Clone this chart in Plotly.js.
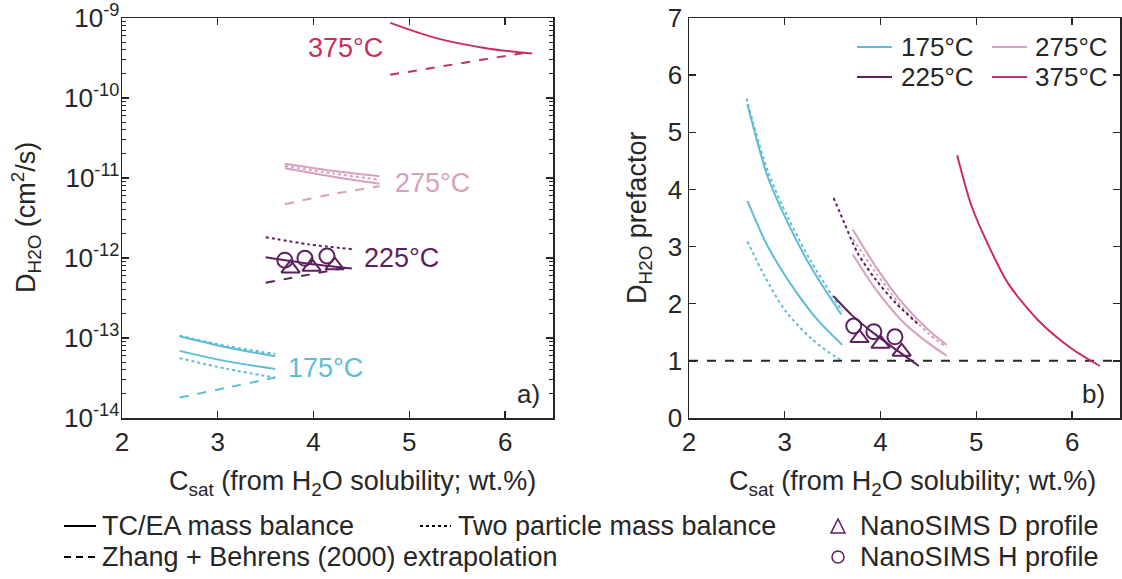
<!DOCTYPE html>
<html>
<head>
<meta charset="utf-8">
<script src="https://cdn.plot.ly/plotly-3.0.1.min.js"></script>
<style>html,body{margin:0;padding:0;background:#fff;}#chart{width:1122px;height:579px;}</style>
</head>
<body>
<div id="chart"></div>
<script>
// ---------- Panel a) : D_H2O (cm^2/s) vs Csat ----------
// 175 °C
const a175_x = [2.6, 3.1, 3.6];
const a175_tc_hi = [1.05e-13, 7.6e-14, 5.9e-14];
const a175_tp_hi = [1.07e-13, 7.9e-14, 6.3e-14];
const a175_tc_lo = [6.9e-14, 5.1e-14, 4.1e-14];
const a175_tp_lo = [5.6e-14, 4.1e-14, 3.2e-14];
const a175_zb    = [1.8e-14, 2.4e-14, 3.2e-14];
// 225 °C
const a225_x = [3.5, 3.95, 4.4];
const a225_tc = [1.02e-12, 8.5e-13, 7.4e-13];
const a225_tp = [1.82e-12, 1.48e-12, 1.29e-12];
const a225_zb = [4.9e-13, 6.2e-13, 7.8e-13];
const a225_D_x = [3.76, 3.98, 4.22];
const a225_D_y = [7.4e-13, 7.8e-13, 8.1e-13];
const a225_H_x = [3.70, 3.91, 4.14];
const a225_H_y = [9.4e-13, 9.9e-13, 1.06e-12];
// 275 °C
const a275_x = [3.7, 4.2, 4.69];
const a275_tc_hi = [1.51e-11, 1.23e-11, 1.05e-11];
const a275_tc_lo = [1.32e-11, 1.04e-11, 8.5e-12];
const a275_tp    = [1.41e-11, 1.14e-11, 9.5e-12];
const a275_zb    = [4.7e-12, 6.3e-12, 7.9e-12];
// 375 °C
const a375_x  = [4.80, 5.28, 5.80, 6.28];
const a375_tc = [8.7e-10, 5.6e-10, 4.2e-10, 3.6e-10];
const a375_zb_x = [4.80, 6.28];
const a375_zb = [1.95e-10, 3.8e-10];

// ---------- Panel b) : D_H2O prefactor vs Csat ----------
const b175_tc_hi_x = [2.61, 2.82, 3.03, 3.27, 3.59];
const b175_tc_hi   = [5.49, 4.23, 3.42, 2.65, 1.81];
const b175_tp_hi_x = [2.60, 2.82, 3.03, 3.27, 3.60];
const b175_tp_hi   = [5.59, 4.33, 3.52, 2.75, 1.87];
const b175_tc_lo_x = [2.61, 2.82, 3.10, 3.34, 3.60];
const b175_tc_lo   = [3.80, 3.01, 2.25, 1.72, 1.28];
const b175_tp_lo_x = [2.61, 2.79, 3.00, 3.27, 3.53, 3.60];
const b175_tp_lo   = [3.09, 2.48, 1.89, 1.40, 1.07, 1.01];
const b225_tp_x = [3.51, 3.62, 3.76, 3.95, 4.16, 4.40];
const b225_tp   = [3.85, 3.42, 2.89, 2.42, 2.01, 1.63];
const b225_tc_x = [3.51, 3.70, 3.90, 4.10, 4.40];
const b225_tc   = [2.13, 1.80, 1.52, 1.27, 0.91];
const b225_D_x = [3.78, 4.00, 4.22];
const b225_D_y = [1.40, 1.30, 1.16];
const b225_H_x = [3.72, 3.93, 4.15];
const b225_H_y = [1.61, 1.51, 1.42];
const b275_x = [3.71, 3.95, 4.23, 4.50, 4.69];
const b275_tc_hi = [3.30, 2.65, 2.01, 1.54, 1.28];
const b275_tc_lo = [2.86, 2.25, 1.69, 1.31, 1.09];
const b275_tp    = [3.13, 2.55, 1.93, 1.48, 1.23];
const b375_x  = [4.80, 4.95, 5.13, 5.33, 5.64, 5.99, 6.29];
const b375_tc = [4.60, 3.71, 3.01, 2.36, 1.72, 1.22, 0.91];
const refLine_x = [2, 6.5];
const refLine_y = [1, 1];

// ---------- labels ----------
const tempLabels = ['175°C', '225°C', '275°C', '375°C'];
const xTicks = [2, 3, 4, 5, 6];
const yTicksA = [1e-14, 1e-13, 1e-12, 1e-11, 1e-10, 1e-9];
const yTickTextA = ['10<sup>-14</sup>', '10<sup>-13</sup>', '10<sup>-12</sup>', '10<sup>-11</sup>', '10<sup>-10</sup>', '10<sup>-9</sup>'];
const yTicksB = [0, 1, 2, 3, 4, 5, 6, 7];
const styleLabels = ['TC/EA mass balance', 'Two particle mass balance', 'Zhang + Behrens (2000) extrapolation', 'NanoSIMS D profile', 'NanoSIMS H profile'];

// ---------- styling ----------
const C175 = '#5DBDD5', C225 = '#5C1F5F', C275 = '#D6A0BE', C375 = '#C92F5E';
const INK = '#262626';
const FONT = 'Liberation Sans, Arial, Helvetica, sans-serif';
const W = 1122, H = 579;
const PX = v => v / W, PY = v => 1 - v / H;

function ln(x, y, color, dash, ax) {
  return {x: x, y: y, type: 'scatter', mode: 'lines', xaxis: ax[0], yaxis: ax[1],
    line: {color: color, width: 2, dash: dash, shape: 'spline', smoothing: 0.8}, showlegend: false, hoverinfo: 'skip'};
}
function mk(x, y, sym, size, ax) {
  return {x: x, y: y, type: 'scatter', mode: 'markers', xaxis: ax[0], yaxis: ax[1],
    marker: {symbol: sym, size: size, color: C225, line: {color: C225, width: 2}},
    showlegend: false, hoverinfo: 'skip'};
}
const A = ['x', 'y'], B = ['x2', 'y2'];

const data = [
  ln(a175_x, a175_tp_hi, C175, 'dot', A),
  ln(a175_x, a175_tc_hi, C175, 'solid', A),
  ln(a175_x, a175_tc_lo, C175, 'solid', A),
  ln(a175_x, a175_tp_lo, C175, 'dot', A),
  ln(a175_x, a175_zb, C175, 'dash', A),
  ln(a225_x, a225_tp, C225, 'dot', A),
  ln(a225_x, a225_tc, C225, 'solid', A),
  ln(a225_x, a225_zb, C225, 'dash', A),
  mk(a225_H_x, a225_H_y, 'circle-open', 15, A),
  mk(a225_D_x, a225_D_y, 'triangle-up-open', 16, A),
  ln(a275_x, a275_tc_hi, C275, 'solid', A),
  ln(a275_x, a275_tc_lo, C275, 'solid', A),
  ln(a275_x, a275_tp, C275, 'dot', A),
  ln(a275_x, a275_zb, C275, 'dash', A),
  ln(a375_x, a375_tc, C375, 'solid', A),
  ln(a375_zb_x, a375_zb, C375, 'dash', A),

  ln(refLine_x, refLine_y, INK, 'dash', B),
  ln(b175_tp_hi_x, b175_tp_hi, C175, 'dot', B),
  ln(b175_tc_hi_x, b175_tc_hi, C175, 'solid', B),
  ln(b175_tc_lo_x, b175_tc_lo, C175, 'solid', B),
  ln(b175_tp_lo_x, b175_tp_lo, C175, 'dot', B),
  ln(b275_x, b275_tc_hi, C275, 'solid', B),
  ln(b275_x, b275_tc_lo, C275, 'solid', B),
  ln(b275_x, b275_tp, C275, 'dot', B),
  ln(b225_tp_x, b225_tp, C225, 'dot', B),
  ln(b225_tc_x, b225_tc, C225, 'solid', B),
  mk(b225_H_x, b225_H_y, 'circle-open', 15, B),
  mk(b225_D_x, b225_D_y, 'triangle-up-open', 16, B),
  ln(b375_x, b375_tc, C375, 'solid', B)
];

// minor log ticks for panel a
const minorA = [];
for (let e = -14; e < -9; e++) for (let m = 2; m <= 9; m++) minorA.push(m * Math.pow(10, e));

const axBase = {showline: true, linecolor: INK, linewidth: 1.5, mirror: 'ticks', ticks: 'inside',
  ticklen: 7, tickwidth: 1.3, tickcolor: INK, showgrid: false, zeroline: false,
  tickfont: {family: FONT, size: 26, color: INK}, fixedrange: true};

const yTop = PY(18), yBot = PY(418);
const layout = {
  width: W, height: H, margin: {l: 0, r: 0, t: 0, b: 0},
  paper_bgcolor: '#fff', plot_bgcolor: '#fff', showlegend: false,
  font: {family: FONT, color: INK},
  xaxis: Object.assign({}, axBase, {domain: [PX(122), PX(553)], range: [2, 6.5], tickmode: 'array', tickvals: xTicks, anchor: 'y'}),
  yaxis: Object.assign({}, axBase, {domain: [yBot, yTop], type: 'log', range: [-14, -9], tickmode: 'array',
    tickvals: yTicksA, ticktext: yTickTextA, anchor: 'x', ticklabelstandoff: -4,
    minor: {tickmode: 'array', tickvals: minorA, ticks: 'inside', ticklen: 4, tickwidth: 1, tickcolor: INK}}),
  xaxis2: Object.assign({}, axBase, {domain: [PX(689), PX(1120)], range: [2, 6.5], tickmode: 'array', tickvals: xTicks, anchor: 'y2'}),
  yaxis2: Object.assign({}, axBase, {domain: [yBot, yTop], range: [0, 7], tickmode: 'array', tickvals: yTicksB, anchor: 'x2'}),
  annotations: [], shapes: []
};

function txt(x, y, text, color, size, xanchor, extra) {
  layout.annotations.push(Object.assign({xref: 'paper', yref: 'paper', x: PX(x), y: PY(y), text: text,
    showarrow: false, xanchor: xanchor || 'center', yanchor: 'middle',
    font: {family: FONT, size: size, color: color}}, extra || {}));
}
function seg(x0, x1, y, color, dash) {
  layout.shapes.push({type: 'line', xref: 'paper', yref: 'paper', x0: PX(x0), x1: PX(x1), y0: PY(y), y1: PY(y),
    line: {color: color, width: 2, dash: dash}});
}

// axis titles
txt(26, 218, 'D<sub>H2O</sub> (cm<sup>2</sup>/s)', INK, 27, 'center', {textangle: -90});
txt(352, 483, 'C<sub>sat</sub> (from H<sub>2</sub>O solubility; wt.%)', INK, 27, 'center');
txt(639, 218, 'D<sub>H2O</sub> prefactor', INK, 27, 'center', {textangle: -90});
txt(912, 483, 'C<sub>sat</sub> (from H<sub>2</sub>O solubility; wt.%)', INK, 27, 'center');

// in-panel labels
txt(345, 48, tempLabels[3], C375, 27);
txt(432, 183, tempLabels[2], C275, 27);
txt(401, 258, tempLabels[1], C225, 27);
txt(325, 368, tempLabels[0], C175, 27);
txt(528, 394, 'a)', INK, 26);
txt(1093, 394, 'b)', INK, 26);

// panel b legend
seg(857, 892, 47, C175, 'solid'); txt(899, 47, tempLabels[0], INK, 26, 'left');
seg(857, 892, 77, C225, 'solid'); txt(899, 77, tempLabels[1], INK, 26, 'left');
seg(992, 1027, 47, C275, 'solid'); txt(1033, 47, tempLabels[2], INK, 26, 'left');
seg(992, 1027, 77, C375, 'solid'); txt(1033, 77, tempLabels[3], INK, 26, 'left');

// bottom legend
seg(64, 96, 526, '#000', 'solid'); txt(100, 526, styleLabels[0], INK, 27, 'left');
seg(420, 451, 526, '#000', 'dot'); txt(456, 526, styleLabels[1], INK, 27, 'left');
seg(64, 96, 557, '#000', '7px,5px'); txt(100, 557, styleLabels[2], INK, 27, 'left');
layout.shapes.push({type: 'path', xref: 'paper', yref: 'paper',
  path: `M ${PX(831)} ${PY(533)} L ${PX(845)} ${PY(533)} L ${PX(838)} ${PY(519)} Z`,
  line: {color: C225, width: 1.5}});
layout.shapes.push({type: 'circle', xref: 'paper', yref: 'paper',
  x0: PX(832), x1: PX(844), y0: PY(551), y1: PY(563), line: {color: C225, width: 1.5}});
txt(858, 526, styleLabels[3], INK, 27, 'left');
txt(858, 557, styleLabels[4], INK, 27, 'left');

Plotly.newPlot('chart', data, layout, {staticPlot: true, displayModeBar: false});
</script>
</body>
</html>
